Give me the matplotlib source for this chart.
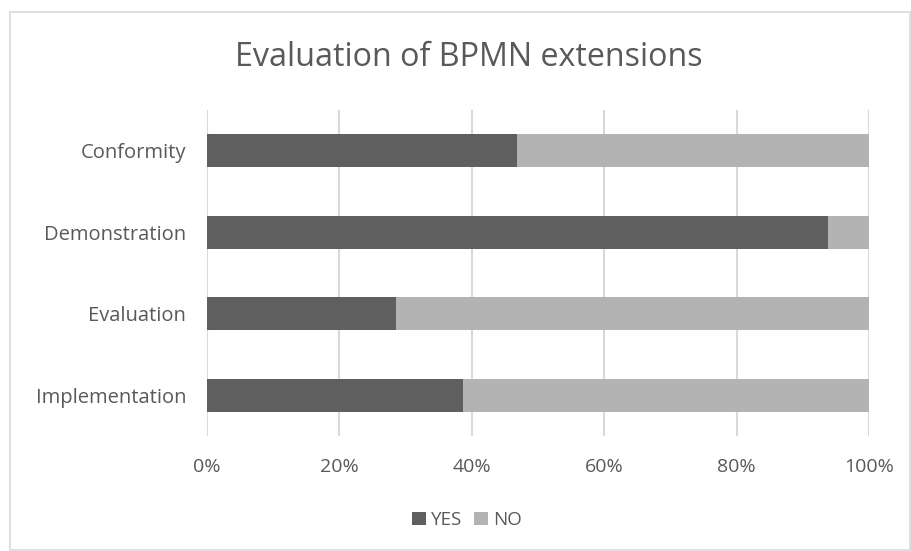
import matplotlib
matplotlib.use("Agg")
import matplotlib.pyplot as plt
from matplotlib.patches import Rectangle

categories = ["Implementation", "Evaluation", "Demonstration", "Conformity"]
yes_pct = [38.7, 28.6, 93.8, 46.9]
no_pct = [100 - v for v in yes_pct]
xticks = [0, 20, 40, 60, 80, 100]
xtick_labels = ["0%", "20%", "40%", "60%", "80%", "100%"]

plt.rcParams['font.family'] = ['Open Sans', 'DejaVu Sans']
txt = "#595959"

fig = plt.figure(figsize=(9.11, 5.51), dpi=100)
ax = fig.add_axes([207/911, 1-436/551, (869-207)/911, (436-110)/551])

ypos = list(range(len(categories)))
ax.barh(ypos, yes_pct, height=0.4, color="#5f5f5f", label="YES", zorder=3)
ax.barh(ypos, no_pct, left=yes_pct, height=0.4, color="#b3b3b3", label="NO", zorder=3)

ax.set_xlim(0, 100)
ax.set_ylim(-0.5, len(categories) - 0.5)
ax.set_yticks(ypos)
ax.set_yticklabels(categories, fontsize=14.5, color=txt)
ax.set_xticks(xticks)
ax.set_xticklabels(xtick_labels, fontsize=14, color=txt)
ax.tick_params(axis='both', length=0)
ax.tick_params(axis='y', pad=15)
ax.tick_params(axis='x', pad=16)
ax.grid(axis='x', color="#d9d9d9", linewidth=1.5, zorder=0)
for s in ax.spines.values():
    s.set_visible(False)

fig.text(469/911, 1-57/551, "Evaluation of BPMN extensions", ha='center', va='center',
         fontsize=23.2, color=txt)

leg = fig.legend(loc='center', bbox_to_anchor=(467/911, 1-520/551), ncol=2, frameon=False,
                 fontsize=13.5, handlelength=0.75, handleheight=0.75, handletextpad=0.3,
                 columnspacing=0.6)
for t in leg.get_texts():
    t.set_color(txt)

fig.patches.append(Rectangle((10/911, 1/551), 900/911, 538/551, transform=fig.transFigure,
                             fill=False, edgecolor="#d9d9d9", linewidth=1.2))

fig.savefig("out.png", dpi=100)
